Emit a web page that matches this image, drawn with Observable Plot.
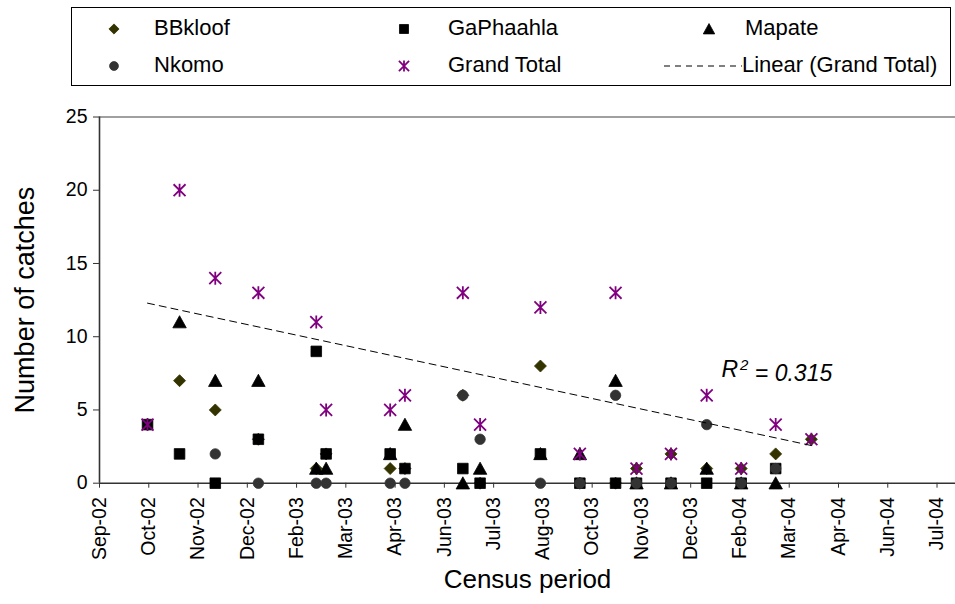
<!DOCTYPE html>
<html>
<head>
<meta charset="utf-8">
<script src="https://cdn.jsdelivr.net/npm/d3@7"></script>
<script src="https://cdn.jsdelivr.net/npm/@observablehq/plot@0.6"></script>
<style>
  html, body { margin: 0; padding: 0; background: #fff; }
  #wrap { position: relative; width: 955px; height: 604px; font-family: "Liberation Sans", Arial, sans-serif; }
  #legend { position: relative; width: 955px; height: 95px; }
  #legend .box { position: absolute; left: 71px; top: 7px; width: 880px; height: 79px; border: 1px solid #000; box-sizing: border-box; }
  #legend .item { position: absolute; font-size: 22px; line-height: 22px; color: #000; white-space: nowrap; }
  #legend svg.sym { position: absolute; overflow: visible; }
  #chart svg { display: block; }
</style>
</head>
<body>
<div id="wrap">
  <div id="legend"><div class="box"></div></div>
  <div id="chart"></div>
</div>
<script>
// ---- data ----
const seriesNames = ["BBkloof", "GaPhaahla", "Mapate", "Nkomo", "Grand Total"];
const censusDates = ["2002-10-10","2002-11-05","2002-12-04","2003-01-08","2003-02-24","2003-03-04",
  "2003-04-25","2003-05-07","2003-06-23","2003-07-07","2003-08-25","2003-09-26","2003-10-25",
  "2003-11-11","2003-12-09","2004-01-07","2004-02-04","2004-03-03","2004-04-01"];
const bbkloof    = [null, 7, 5, 3, 1, 2, 1, 1, 6, 0, 8, 0, 0, 1, 2, 1, 1, 2, 3];
const gaPhaahla  = [4, 2, 0, 3, 9, 2, 2, 1, 1, 0, 2, 0, 0, 0, 0, 0, 0, 1, null];
const mapate     = [null, 11, 7, 7, 1, 1, 2, 4, 0, 1, 2, 2, 7, 0, 0, 1, 0, 0, null];
const nkomo      = [null, null, 2, 0, 0, 0, 0, 0, 6, 3, 0, 0, 6, 0, 0, 4, 0, 1, null];
const grandTotal = [4, 20, 14, 13, 11, 5, 5, 6, 13, 4, 12, 2, 13, 1, 2, 6, 1, 4, 3];

const xTickDates = ["2002-09-01","2002-10-11","2002-11-20","2002-12-30","2003-02-08","2003-03-20",
  "2003-04-29","2003-06-08","2003-07-18","2003-08-27","2003-10-06","2003-11-15","2003-12-25",
  "2004-02-03","2004-03-14","2004-04-23","2004-06-02","2004-07-12"];
const xTickLabels = ["Sep-02","Oct-02","Nov-02","Dec-02","Feb-03","Mar-03","Apr-03","Jun-03","Jul-03",
  "Aug-03","Oct-03","Nov-03","Dec-03","Feb-04","Mar-04","Apr-04","Jun-04","Jul-04"];
const xDomain = ["2002-09-01", "2004-07-27"];
const yTicks = [0, 5, 10, 15, 20, 25];
const r2Parts = ["R", "2", " = 0.315"];
const trendLabel = "Linear (Grand Total)";

// ---- symbols ----
const symDiamond = { draw(c, size) { const h = Math.sqrt(size / Math.PI);
  c.moveTo(0, -h); c.lineTo(h, 0); c.lineTo(0, h); c.lineTo(-h, 0); c.closePath(); } };
const symSquare = { draw(c, size) { const h = Math.sqrt(size / Math.PI);
  c.moveTo(-h, -h); c.lineTo(h, -h); c.lineTo(h, h); c.lineTo(-h, h); c.closePath(); } };
const symTriangle = { draw(c, size) { const h = Math.sqrt(size / Math.PI);
  c.moveTo(0, -h); c.lineTo(1.05 * h, 0.9 * h); c.lineTo(-1.05 * h, 0.9 * h); c.closePath(); } };
const symCircle = { draw(c, size) { const h = Math.sqrt(size / Math.PI);
  c.moveTo(h, 0); c.arc(0, 0, h, 0, 2 * Math.PI); } };
const symAsterisk = { draw(c, size) { const h = Math.sqrt(size / Math.PI);
  c.moveTo(0, -h); c.lineTo(0, h);
  c.moveTo(-0.92 * h, -0.92 * h); c.lineTo(0.92 * h, 0.92 * h);
  c.moveTo(-0.92 * h, 0.92 * h); c.lineTo(0.92 * h, -0.92 * h); } };

const styles = {
  "BBkloof":     { symbol: symDiamond,  r: 6,   fill: "#333300", stroke: "#333300" },
  "GaPhaahla":   { symbol: symSquare,   r: 5.3, fill: "#000000", stroke: "#000000" },
  "Mapate":      { symbol: symTriangle, r: 6.4, fill: "#000000", stroke: "#000000" },
  "Nkomo":       { symbol: symCircle,   r: 5.2, fill: "#333333", stroke: "#333333" },
  "Grand Total": { symbol: symAsterisk, r: 6.5, fill: "none",    stroke: "#800080" }
};

const valuesBySeries = [bbkloof, gaPhaahla, mapate, nkomo, grandTotal];
const parse = d3.utcParse("%Y-%m-%d");
function rows(vals) {
  return censusDates.map((d, i) => ({ date: parse(d), value: vals[i] })).filter(r => r.value != null);
}
const tickDates = xTickDates.map(parse);

const dotMarks = seriesNames.map((name, k) => {
  const s = styles[name];
  return Plot.dot(rows(valuesBySeries[k]), {
    x: "date", y: "value", symbol: s.symbol, r: s.r,
    fill: s.fill, stroke: s.stroke, strokeWidth: name === "Grand Total" ? 1.8 : 0.8
  });
});

const gtRows = rows(grandTotal);

const chart = Plot.plot({
  width: 955,
  height: 509,
  marginLeft: 99,
  marginRight: 0,
  marginTop: 21.5,
  marginBottom: 121.3,
  style: { fontFamily: "'Liberation Sans', Arial, sans-serif", fontSize: "19px", color: "#000", background: "#fff" },
  x: { type: "utc", domain: xDomain.map(parse) },
  y: { domain: [0, 25] },
  marks: [
    Plot.ruleY([25], { stroke: "#808080", strokeWidth: 1.6 }),
    Plot.axisY({ ticks: yTicks, tickSize: 6, tickPadding: 6, fontSize: 19.5, label: null, stroke: "#333" }),
    Plot.axisX({
      ticks: tickDates,
      tickFormat: d => xTickLabels[tickDates.findIndex(t => +t === +d)],
      tickRotate: -90, tickSize: 5, tickPadding: 9, fontSize: 19.5, label: null, stroke: "#333"
    }),
    Plot.ruleX([parse(xDomain[0])], { stroke: "#333", strokeWidth: 1.6 }),
    Plot.ruleY([0], { stroke: "#333", strokeWidth: 1.6 }),
    ...dotMarks,
    Plot.linearRegressionY(gtRows, { x: "date", y: "value", ci: 0, stroke: "#000", strokeWidth: 1, strokeDasharray: "7,5" }),
    Plot.text([r2Parts.join("")], { x: () => parse("2004-01-19"), y: () => 7.75, text: d => d, textAnchor: "start",
      fontSize: 23, fontStyle: "italic", fill: "#000", className: "r2label" }),
    Plot.text(["Number of catches"], { frameAnchor: "left", textAnchor: "middle", lineAnchor: "middle",
      rotate: -90, dx: -74, fontSize: 27, fill: "#000" }),
    Plot.text(["Census period"], { frameAnchor: "bottom", textAnchor: "middle", dy: 105, fontSize: 26, fill: "#000" })
  ]
});
document.getElementById("chart").appendChild(chart);

// superscript the 2 in the R² label
d3.select(chart).selectAll(".r2label text").each(function () {
  const t = d3.select(this);
  t.text(null);
  t.append("tspan").text(r2Parts[0]);
  t.append("tspan").attr("dy", "-0.45em").attr("font-size", "15px").attr("dx", "2").text(r2Parts[1]);
  t.append("tspan").attr("dy", "0.45em").text(r2Parts[2]);
});

// ---- legend ----
const legend = document.getElementById("legend");
const legendItems = [
  { name: "BBkloof",     sx: 114, tx: 154, cy: 29 },
  { name: "GaPhaahla",   sx: 404, tx: 448, cy: 29 },
  { name: "Mapate",      sx: 709, tx: 745, cy: 29 },
  { name: "Nkomo",       sx: 114, tx: 154, cy: 66 },
  { name: "Grand Total", sx: 404, tx: 448, cy: 66 },
  { name: trendLabel,    sx: null, tx: 742, cy: 66 }
];
legendItems.forEach(it => {
  const svg = d3.create("svg").attr("class", "sym");
  if (it.sx != null) {
    const s = styles[it.name];
    svg.attr("width", 20).attr("height", 20)
      .style("left", (it.sx - 10) + "px").style("top", (it.cy - 10) + "px");
    svg.append("path")
      .attr("transform", "translate(10,10)")
      .attr("d", d3.symbol(s.symbol, Math.PI * (s.r * 0.85) ** 2)())
      .attr("fill", s.fill).attr("stroke", s.stroke)
      .attr("stroke-width", it.name === "Grand Total" ? 1.8 : 0.8);
  } else {
    svg.attr("width", 80).attr("height", 10)
      .style("left", "664px").style("top", (it.cy - 5) + "px");
    svg.append("line").attr("x1", 0).attr("x2", 78).attr("y1", 5).attr("y2", 5)
      .attr("stroke", "#000").attr("stroke-dasharray", "6,5");
  }
  legend.appendChild(svg.node());
  const lab = document.createElement("div");
  lab.className = "item";
  lab.textContent = it.name;
  lab.style.left = it.tx + "px";
  lab.style.top = (it.cy - 12) + "px";
  legend.appendChild(lab);
});
</script>
</body>
</html>
